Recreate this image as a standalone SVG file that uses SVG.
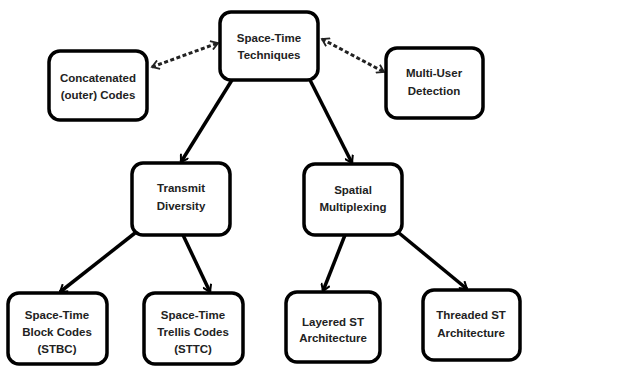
<svg xmlns="http://www.w3.org/2000/svg" width="643" height="367" viewBox="0 0 643 367">
<style>
.box{fill:#fff;stroke:#000;stroke-width:3.5}
.t{font-family:"Liberation Sans",Arial,sans-serif;font-weight:bold;font-size:11.5px;fill:#222;text-anchor:middle}
.c{fill:none;stroke:#000;stroke-width:3.5}
.d{fill:none;stroke:#222;stroke-width:3;stroke-dasharray:4 2.5}
</style>
<defs>
<marker id="ah" markerWidth="10" markerHeight="10" refX="8" refY="5" orient="auto" markerUnits="userSpaceOnUse" viewBox="0 0 10 10">
<path d="M1,0.5 L8,5 L1,9.5" fill="none" stroke="#000" stroke-width="2"/>
</marker>
<marker id="dh" markerWidth="10" markerHeight="10" refX="8" refY="5" orient="auto-start-reverse" markerUnits="userSpaceOnUse" viewBox="0 0 10 10">
<path d="M1,0.5 L8,5 L1,9.5" fill="none" stroke="#222" stroke-width="1.8"/>
</marker>
</defs>
<rect width="643" height="367" fill="#fff"/>
<g id="connectors">
<line class="d" x1="152" y1="67" x2="218" y2="43" marker-start="url(#dh)" marker-end="url(#dh)"/>
<line class="d" x1="322" y1="39" x2="384" y2="72" marker-start="url(#dh)" marker-end="url(#dh)"/>
<line class="c" x1="232" y1="80" x2="181" y2="162" marker-end="url(#ah)"/>
<line class="c" x1="310" y1="80" x2="352" y2="163" marker-end="url(#ah)"/>
<line class="c" x1="135" y1="233" x2="60" y2="292" marker-end="url(#ah)"/>
<line class="c" x1="183" y1="235" x2="210" y2="292" marker-end="url(#ah)"/>
<line class="c" x1="345" y1="235" x2="323" y2="291" marker-end="url(#ah)"/>
<line class="c" x1="399" y1="233" x2="467" y2="289" marker-end="url(#ah)"/>
</g>
<g id="n-top"><rect class="box" x="220" y="12" width="98" height="68" rx="11"/><text class="t" x="269" y="42">Space-Time</text><text class="t" x="269" y="59">Techniques</text></g>
<g id="n-concat"><rect class="box" x="49" y="51" width="98" height="69" rx="11"/><text class="t" x="98" y="82">Concatenated</text><text class="t" x="98" y="99">(outer) Codes</text></g>
<g id="n-multi"><rect class="box" x="386" y="48" width="97" height="70" rx="11"/><text class="t" x="434" y="77">Multi-User</text><text class="t" x="434" y="95">Detection</text></g>
<g id="n-transmit"><rect class="box" x="132" y="163" width="98" height="72" rx="11"/><text class="t" x="181" y="192">Transmit</text><text class="t" x="181" y="210">Diversity</text></g>
<g id="n-spatial"><rect class="box" x="304" y="164" width="98" height="71" rx="11"/><text class="t" x="353" y="194">Spatial</text><text class="t" x="353" y="211">Multiplexing</text></g>
<g id="n-stbc"><rect class="box" x="8" y="293" width="99" height="71" rx="11"/><text class="t" x="57" y="319">Space-Time</text><text class="t" x="57" y="336">Block Codes</text><text class="t" x="57" y="353">(STBC)</text></g>
<g id="n-sttc"><rect class="box" x="144" y="293" width="99" height="71" rx="11"/><text class="t" x="193" y="319">Space-Time</text><text class="t" x="193" y="336">Trellis Codes</text><text class="t" x="193" y="353">(STTC)</text></g>
<g id="n-layered"><rect class="box" x="286" y="292" width="94" height="70" rx="11"/><text class="t" x="333" y="326">Layered ST</text><text class="t" x="333" y="342">Architecture</text></g>
<g id="n-threaded"><rect class="box" x="423" y="290" width="97" height="70" rx="11"/><text class="t" x="471" y="319">Threaded ST</text><text class="t" x="471" y="337">Architecture</text></g>
</svg>
